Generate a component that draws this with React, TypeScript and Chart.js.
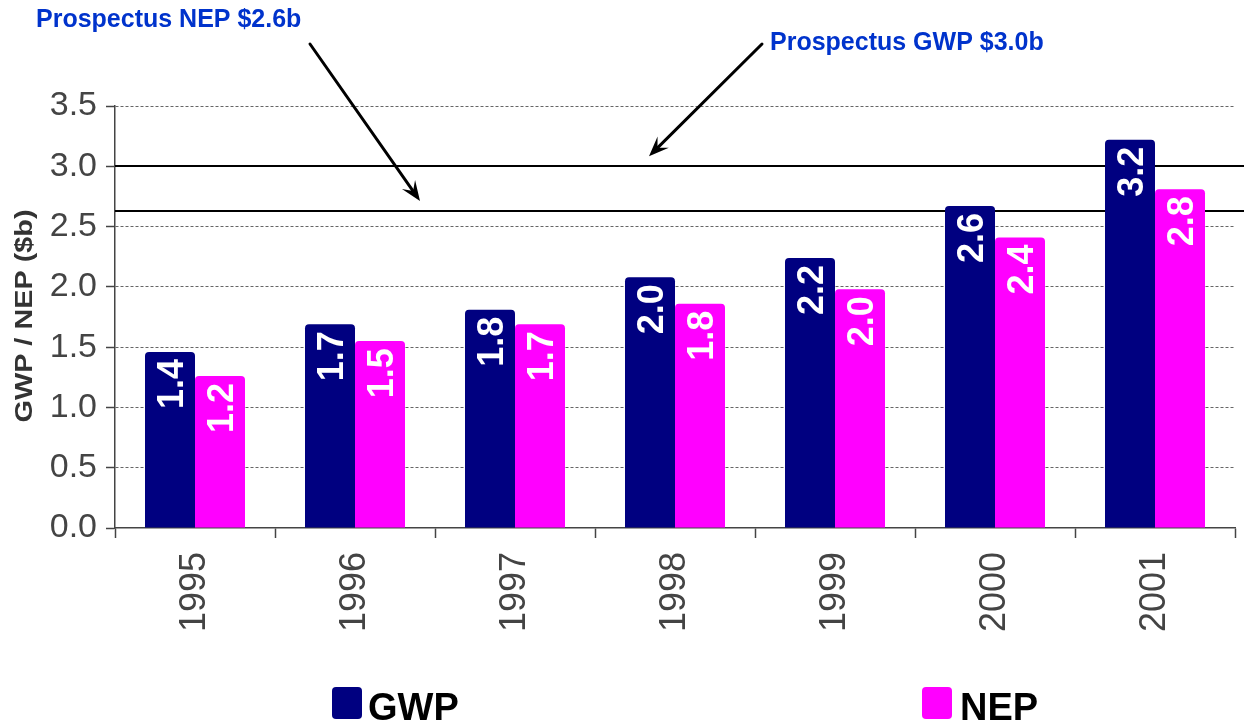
import React, { useEffect, useRef } from "react";
import { Chart, registerables } from "chart.js";

Chart.register(...registerables);

const years = ["1995", "1996", "1997", "1998", "1999", "2000", "2001"];
const gwpValues = [1.46, 1.69, 1.81, 2.08, 2.24, 2.67, 3.22];
const nepValues = [1.26, 1.55, 1.69, 1.86, 1.98, 2.41, 2.81];
const gwpLabels = ["1.4", "1.7", "1.8", "2.0", "2.2", "2.6", "3.2"];
const nepLabels = ["1.2", "1.5", "1.7", "1.8", "2.0", "2.4", "2.8"];
const seriesNames = ["GWP", "NEP"];
const seriesColors = ["#000080", "#ff00ff"];
const prospectusGwp = 3.0;
const prospectusNep = 2.63;
const prospectusGwpText = "Prospectus GWP $3.0b";
const prospectusNepText = "Prospectus NEP $2.6b";
const yAxisTitle = "GWP / NEP ($b)";

const FONT = "'Liberation Sans', Arial, Helvetica, sans-serif";
const W = 1244;
const H = 726;

function drawArrow(ctx: CanvasRenderingContext2D, x1: number, y1: number, x2: number, y2: number) {
  const ang = Math.atan2(y2 - y1, x2 - x1);
  const len = 20;
  const half = 8;
  const c = Math.cos(ang);
  const s = Math.sin(ang);
  const bx = x2 - c * len * 0.6;
  const by = y2 - s * len * 0.6;
  ctx.save();
  ctx.strokeStyle = "#000";
  ctx.fillStyle = "#000";
  ctx.lineWidth = 3;
  ctx.lineCap = "round";
  ctx.beginPath();
  ctx.moveTo(x1, y1);
  ctx.lineTo(bx, by);
  ctx.stroke();
  ctx.beginPath();
  ctx.moveTo(x2, y2);
  ctx.lineTo(x2 - c * len + s * half, y2 - s * len - c * half);
  ctx.lineTo(bx, by);
  ctx.lineTo(x2 - c * len - s * half, y2 - s * len + c * half);
  ctx.closePath();
  ctx.fill();
  ctx.restore();
}

function roundRect(ctx: CanvasRenderingContext2D, x: number, y: number, w: number, h: number, r: number) {
  ctx.beginPath();
  ctx.moveTo(x + r, y);
  ctx.lineTo(x + w - r, y);
  ctx.quadraticCurveTo(x + w, y, x + w, y + r);
  ctx.lineTo(x + w, y + h - r);
  ctx.quadraticCurveTo(x + w, y + h, x + w - r, y + h);
  ctx.lineTo(x + r, y + h);
  ctx.quadraticCurveTo(x, y + h, x, y + h - r);
  ctx.lineTo(x, y + r);
  ctx.quadraticCurveTo(x, y, x + r, y);
  ctx.closePath();
}

const overlayPlugin = {
  id: "overlay",
  beforeDatasetsDraw(chart: any) {
    const { ctx, chartArea, scales } = chart;
    const y = scales.y;
    ctx.save();
    ctx.strokeStyle = "#000";
    ctx.lineWidth = 2;
    [prospectusGwp, prospectusNep].forEach((v) => {
      const py = Math.round(y.getPixelForValue(v));
      ctx.beginPath();
      ctx.moveTo(chartArea.left, py);
      ctx.lineTo(chart.width, py);
      ctx.stroke();
    });
    ctx.restore();
  },
  afterDatasetsDraw(chart: any) {
    const { ctx } = chart;
    chart.data.datasets.forEach((_ds: any, i: number) => {
      const meta = chart.getDatasetMeta(i);
      const labels = i === 0 ? gwpLabels : nepLabels;
      meta.data.forEach((bar: any, j: number) => {
        const { x, y } = bar.getProps(["x", "y"], true);
        ctx.save();
        ctx.translate(x, y + 7);
        ctx.rotate(-Math.PI / 2);
        ctx.font = `bold 36px ${FONT}`;
        ctx.fillStyle = "#ffffff";
        ctx.textAlign = "right";
        ctx.textBaseline = "alphabetic";
        ctx.fillText(labels[j], 0, 13);
        ctx.restore();
      });
    });
  },
  afterDraw(chart: any) {
    const { ctx, scales } = chart;
    const y = scales.y;
    // annotations
    ctx.save();
    ctx.font = `bold 25px ${FONT}`;
    ctx.fillStyle = "#0033cc";
    ctx.textAlign = "left";
    ctx.textBaseline = "alphabetic";
    ctx.fillText(prospectusNepText, 36, 27);
    ctx.fillText(prospectusGwpText, 770, 50);
    ctx.restore();
    drawArrow(ctx, 310, 44, 420, y.getPixelForValue(prospectusNep) - 10);
    drawArrow(ctx, 762, 44, 649, y.getPixelForValue(prospectusGwp) - 10);

    // y axis title
    ctx.save();
    ctx.font = `bold 23px ${FONT}`;
    const tw = ctx.measureText(yAxisTitle).width;
    ctx.translate(32, 316);
    ctx.rotate(-Math.PI / 2);
    ctx.scale(213 / tw, 1);
    ctx.fillStyle = "#333333";
    ctx.textAlign = "center";
    ctx.textBaseline = "alphabetic";
    ctx.fillText(yAxisTitle, 0, 0);
    ctx.restore();

    // legend
    const legendPos = [
      { box: 332, text: 368 },
      { box: 922, text: 960 },
    ];
    ctx.save();
    legendPos.forEach((p, i) => {
      ctx.fillStyle = seriesColors[i];
      roundRect(ctx, p.box, 687, 30, 32, 4);
      ctx.fill();
      ctx.fillStyle = "#000";
      ctx.font = `bold 38px ${FONT}`;
      ctx.textAlign = "left";
      ctx.textBaseline = "alphabetic";
      ctx.fillText(seriesNames[i], p.text, 720);
    });
    ctx.restore();
  },
};

export default function App() {
  const canvasRef = useRef<HTMLCanvasElement | null>(null);

  useEffect(() => {
    document.body.style.margin = "0";
    const canvas = canvasRef.current;
    if (!canvas) return;
    const chart = new Chart(canvas, {
      type: "bar",
      data: {
        labels: years,
        datasets: [
          {
            label: seriesNames[0],
            data: gwpValues,
            backgroundColor: seriesColors[0],
            borderRadius: 4,
            categoryPercentage: 0.625,
            barPercentage: 1,
          },
          {
            label: seriesNames[1],
            data: nepValues,
            backgroundColor: seriesColors[1],
            borderRadius: 4,
            categoryPercentage: 0.625,
            barPercentage: 1,
          },
        ],
      },
      options: {
        responsive: false,
        animation: false,
        layout: { padding: { top: 106, right: 9, left: 0, bottom: 0 } },
        plugins: {
          legend: { display: false },
          tooltip: { enabled: false },
          title: { display: false },
        },
        scales: {
          x: {
            grid: {
              drawOnChartArea: false,
              drawTicks: true,
              tickLength: 10,
              tickColor: "#444",
              tickWidth: 1.5,
              offset: true,
            },
            border: { color: "#444", width: 1.5 },
            ticks: {
              color: "#444",
              font: { family: FONT, size: 36 },
              minRotation: 90,
              maxRotation: 90,
              padding: 14,
              autoSkip: false,
            },
            afterFit: (s: any) => {
              s.height = H - 528;
            },
          },
          y: {
            min: 0,
            max: 3.5,
            ticks: {
              stepSize: 0.5,
              color: "#444",
              font: { family: FONT, size: 34 },
              padding: 9,
              callback: (v: any) => Number(v).toFixed(1),
            },
            grid: {
              color: (c: any) => (c.tick && c.tick.value === 0 ? "rgba(0,0,0,0)" : "#666"),
              lineWidth: 1,
              tickLength: 9,
              tickColor: "#444",
              tickWidth: 1.5,
            },
            border: { color: "#444", width: 1.5, dash: [3, 2] },
            afterFit: (s: any) => {
              s.width = 115;
            },
          },
        },
      },
      plugins: [overlayPlugin],
    } as any);
    return () => chart.destroy();
  }, []);

  return (
    <div style={{ position: "absolute", left: 0, top: 0, width: W, height: H, background: "#fff" }}>
      <canvas ref={canvasRef} width={W} height={H} style={{ display: "block" }} />
    </div>
  );
}
